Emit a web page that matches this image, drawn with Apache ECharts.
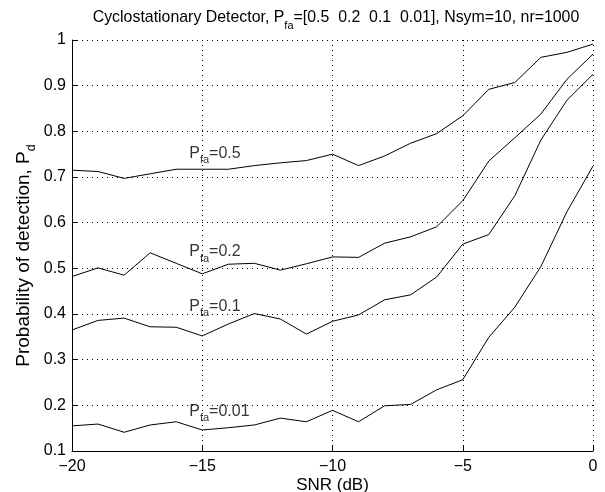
<!DOCTYPE html>
<html>
<head>
<meta charset="utf-8">
<script src="https://cdn.jsdelivr.net/npm/echarts@6/dist/echarts.min.js"></script>
<style>
html,body{margin:0;padding:0;background:#fff;}
#chart{width:605px;height:492px;}
</style>
</head>
<body>
<div id="chart"></div>
<script>
// SNR (dB) grid of the simulation
const snr=[-20,-19,-18,-17,-16,-15,-14,-13,-12,-11,-10,-9,-8,-7,-6,-5,-4,-3,-2,-1,0];
const pfa=['0.5','0.2','0.1','0.01'];
// detection probabilities, one list per Pfa
const pd05=[0.715,0.712,0.697,0.707,0.717,0.717,0.717,0.725,0.731,0.736,0.750,0.725,0.746,0.774,0.795,0.834,0.892,0.907,0.962,0.973,0.991];
const pd02=[0.482,0.501,0.485,0.534,0.511,0.488,0.509,0.511,0.496,0.510,0.525,0.524,0.555,0.569,0.591,0.648,0.735,0.786,0.838,0.914,0.969];
const pd01=[0.365,0.386,0.391,0.372,0.371,0.352,0.378,0.401,0.389,0.356,0.384,0.398,0.431,0.442,0.481,0.553,0.574,0.659,0.781,0.868,0.925];
const pd001=[0.155,0.159,0.141,0.157,0.164,0.146,0.151,0.157,0.172,0.164,0.189,0.164,0.199,0.202,0.234,0.256,0.349,0.415,0.504,0.624,0.724];
// where each curve's text label sits (data units, top-left of the "P")
const labelX=[-15.5,-15.5,-15.5,-15.5];
const labelY=[0.766,0.551,0.431,0.201];

const font="'Liberation Sans', Arial, Helvetica, sans-serif";
const curves=[pd05,pd02,pd01,pd001];

// rich styles: m = normal text, s = subscript dropped below the baseline
function subRich(size,subSize,drop){
    return {
        m:{fontSize:size,fontFamily:font,fontWeight:'normal',color:'#000',verticalAlign:'top',lineHeight:size+1},
        s:{fontSize:subSize,fontFamily:font,fontWeight:'normal',color:'#000',verticalAlign:'top',lineHeight:size+1,padding:[drop,0,0,0]}
    };
}

const minus=v=>v<0?'\u2212'+Math.abs(v):String(v);

const series=curves.map((ys,i)=>({
    type:'line',
    name:'Pfa='+pfa[i],
    data:snr.map((x,k)=>[x,ys[k]]),
    symbol:'none',
    lineStyle:{color:'#000',width:1},
    silent:true,
    animation:false
}));

series.push({
    type:'scatter',
    symbolSize:0,
    silent:true,
    animation:false,
    data:pfa.map((p,i)=>({value:[labelX[i],labelY[i]],name:p})),
    label:{
        show:true,
        position:[0,0],
        offset:[0,-1],
        align:'left',
        verticalAlign:'top',
        formatter:p=>'{m|P}{s|fa}{m|='+p.name+'}',
        rich:subRich(16,11,9)
    }
});

const chart=echarts.init(document.getElementById('chart'),null,{renderer:'canvas'});
chart.setOption({
    backgroundColor:'#fff',
    animation:false,
    title:{
        text:'{m|Cyclostationary Detector, P}{s|fa}{m|=[0.5  0.2  0.1  0.01], Nsym=10, nr=1000}',
        left:331,
        top:5,
        textAlign:'center',
        textStyle:{fontWeight:'normal',rich:subRich(15.9,11,10)}
    },
    grid:{left:72,right:12,top:40,bottom:41,containLabel:false,outerBoundsMode:'none'},
    xAxis:{
        type:'value',
        min:-20,max:0,interval:5,
        name:'SNR (dB)',
        nameLocation:'middle',
        nameGap:26,
        nameMoveOverlap:false,
        nameTextStyle:{fontSize:17,fontFamily:font,color:'#000',verticalAlign:'top'},
        axisLine:{show:true,onZero:false,lineStyle:{color:'#000',width:1}},
        axisTick:{show:true,inside:true,length:5,lineStyle:{color:'#000'}},
        axisLabel:{fontSize:16,fontFamily:font,color:'#000',margin:8,formatter:minus},
        splitLine:{show:true,lineStyle:{color:'#000',width:1,type:[1,4]}}
    },
    yAxis:{
        type:'value',
        min:0.1,max:1,interval:0.1,
        name:'{m|Probability of detection, P}{s|d}',
        nameLocation:'middle',
        nameGap:38,
        nameMoveOverlap:false,
        nameRotate:90,
        nameTextStyle:{rich:subRich(19,12.5,11),padding:[0,20,0,0]},
        axisLine:{show:true,onZero:false,lineStyle:{color:'#000',width:1}},
        axisTick:{show:true,inside:true,length:5,lineStyle:{color:'#000'}},
        axisLabel:{fontSize:16,fontFamily:font,color:'#000',margin:6,
            formatter:v=>String(+v.toFixed(1))},
        splitLine:{show:true,lineStyle:{color:'#000',width:1,type:[1,4]}}
    },
    series:series
});
</script>
</body>
</html>
